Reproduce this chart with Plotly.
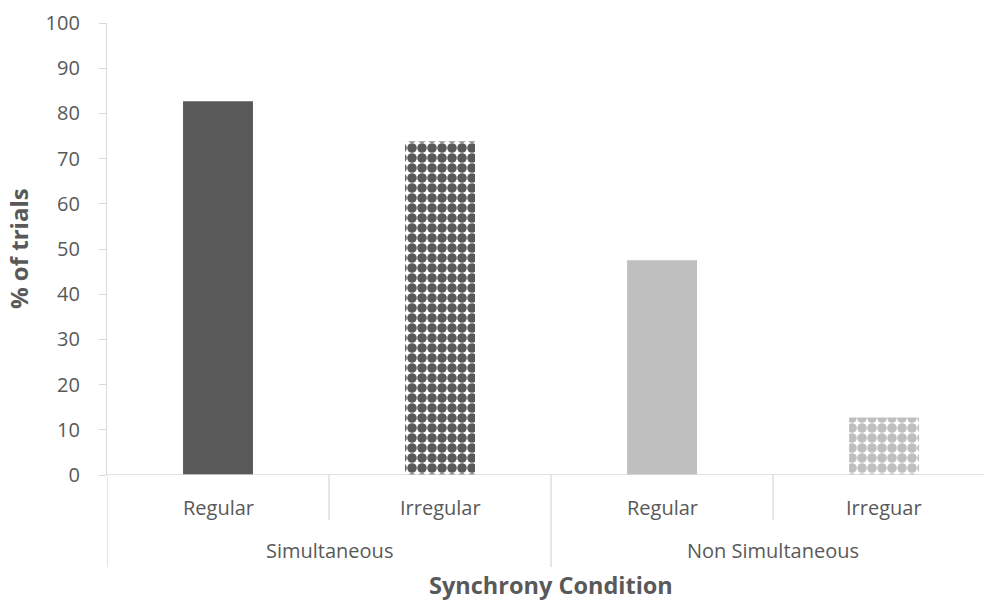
import plotly.graph_objects as go

groups = ["Simultaneous", "Simultaneous", "Non Simultaneous", "Non Simultaneous"]
conditions = ["Regular", "Irregular", "Regular", "Irreguar"]
values = [82.7, 73.8, 47.5, 12.7]
group_names = ["Simultaneous", "Non Simultaneous"]

colors = ["#595959", "#595959", "#BFBFBF", "#BFBFBF"]
patterns = ["", ".", "", "."]

FONT = "Open Sans"
TXT = "#595959"
LINE = "#D9D9D9"
PLOT_H = 452.0

xs = list(range(len(values)))

fig = go.Figure()
for x, v, c, p in zip(xs, values, colors, patterns):
    if p == "":
        marker = dict(color=c, line=dict(width=0))
    else:
        marker = dict(color="white", line=dict(width=0),
                      pattern=dict(shape=p, fgcolor=c, bgcolor="white",
                                   fgopacity=1, size=10, solidity=0.72,
                                   fillmode="overlay"))
    fig.add_trace(go.Bar(x=[x], y=[v], marker=marker, width=0.315,
                         hoverinfo="skip"))

shapes = []
shapes.append(dict(type="line", xref="x", yref="y", x0=-0.5, x1=3.55, y0=0, y1=0,
                   line=dict(color=LINE, width=1.3)))
for i in range(len(xs) + 1):
    xpos = i - 0.5
    long_div = (i == 0) or (i == len(xs)) or (groups[i] != groups[i - 1])
    shapes.append(dict(type="line", xref="x", yref="paper", x0=xpos, x1=xpos,
                       y0=0, y1=-(92 if long_div else 45) / PLOT_H,
                       line=dict(color=LINE, width=1.3)))

annotations = []
for x, c in zip(xs, conditions):
    annotations.append(dict(x=x, y=-32 / PLOT_H, xref="x", yref="paper", text=c,
                            showarrow=False, font=dict(family=FONT, size=20, color=TXT),
                            yanchor="middle"))
for g in group_names:
    idx = [i for i, gg in enumerate(groups) if gg == g]
    cx = (idx[0] + idx[-1]) / 2
    annotations.append(dict(x=cx, y=-75 / PLOT_H, xref="x", yref="paper", text=g,
                            showarrow=False, font=dict(family=FONT, size=20, color=TXT),
                            yanchor="middle"))
annotations.append(dict(x=1.5, y=-110 / PLOT_H, xref="x", yref="paper",
                        text="<b>Synchrony Condition</b>", showarrow=False,
                        font=dict(family=FONT, size=23.5, color=TXT), yanchor="middle"))
annotations.append(dict(x=0, y=0.5, xref="paper", yref="paper", xshift=-89,
                        text="<b>% of trials</b>", showarrow=False, textangle=-90,
                        font=dict(family=FONT, size=24, color=TXT),
                        xanchor="center", yanchor="middle"))

fig.update_layout(
    width=984, height=603,
    margin=dict(l=107, r=0, t=23, b=128, autoexpand=False),
    plot_bgcolor="white", paper_bgcolor="white",
    showlegend=False,
    barmode="overlay",
    shapes=shapes,
    annotations=annotations,
    xaxis=dict(range=[-0.5, 3.45], showticklabels=False, showgrid=False,
               zeroline=False, showline=False, ticks=""),
    yaxis=dict(range=[0, 100], dtick=10, showgrid=False, zeroline=False,
               showline=True, linecolor=LINE, linewidth=1.3,
               ticks="outside", ticklen=7, tickcolor=LINE, tickwidth=1.3,
               ticklabelstandoff=15,
               tickfont=dict(family=FONT, size=20, color=TXT)),
)

fig.write_html("out.html", config={"displayModeBar": False},
               post_script="document.body.style.margin='0';")
